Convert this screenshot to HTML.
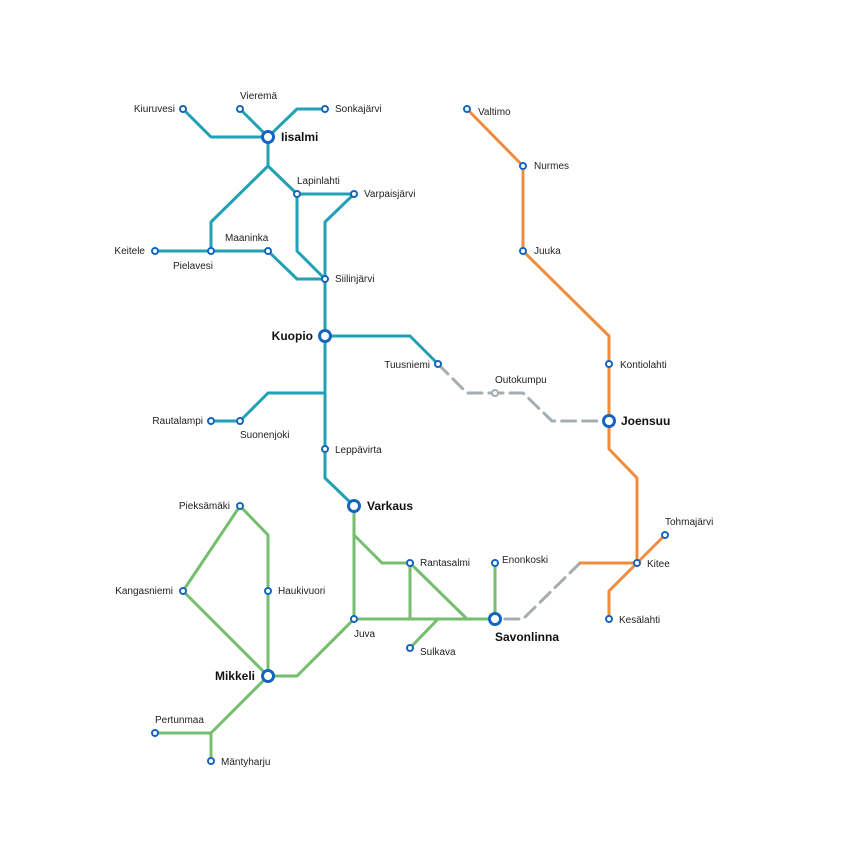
<!DOCTYPE html>
<html><head><meta charset="utf-8"><style>
html,body{margin:0;padding:0;background:#fff}
svg{display:block}
text{font-family:"Liberation Sans",sans-serif;font-size:10px;fill:#222}
.b{font-size:12px;font-weight:bold;fill:#111}
</style></head><body>
<svg width="850" height="850" viewBox="0 0 850 850">
<g fill="none" stroke-width="3" stroke-linejoin="round" stroke-linecap="round">
<g stroke="#22a1b4">
<polyline points="183,109 211,137 268,137"/>
<polyline points="240,109 268,137"/>
<polyline points="325,109 297,109 268,137"/>
<polyline points="268,137 268,166 211,222 211,251"/>
<polyline points="268,166 297,194 354,194"/>
<polyline points="297,194 297,251 325,279"/>
<polyline points="354,194 325,222 325,279"/>
<polyline points="155,251 268,251 297,279 325,279"/>
<polyline points="325,279 325,478 354,506"/>
<polyline points="325,336 410,336 438,364"/>
<polyline points="325,393 268,393 240,421 211,421"/>
</g>
<g stroke="#a3adb3" stroke-dasharray="14,7">
<polyline points="438,364 467,393 523,393 552,421 609,421"/>
<polyline points="580,563 523,619 495,619"/>
</g>
<g stroke="#f18c3e">
<polyline points="467,109 523,166 523,251 609,336 609,449 637,478 637,563 665,535"/>
<polyline points="637,563 609,591 609,619"/>
<polyline points="637,563 580,563"/>
</g>
<g stroke="#74be6d">
<polyline points="354,506 354,535 382,563 410,563 467,619"/>
<polyline points="354,506 354,619 495,619"/>
<polyline points="410,563 410,619"/>
<polyline points="410,648 438,619"/>
<polyline points="495,563 495,619"/>
<polyline points="354,619 297,676 268,676"/>
<polyline points="240,506 268,535 268,676 183,591 240,506"/>
<polyline points="268,676 211,733 155,733"/>
<polyline points="211,733 211,761"/>
</g>
</g>
<g fill="#fff" stroke="#1565c0" stroke-width="2">
<circle cx="183" cy="109" r="3"/><circle cx="240" cy="109" r="3"/><circle cx="325" cy="109" r="3"/>
<circle cx="297" cy="194" r="3"/><circle cx="354" cy="194" r="3"/><circle cx="155" cy="251" r="3"/>
<circle cx="211" cy="251" r="3"/><circle cx="268" cy="251" r="3"/><circle cx="325" cy="279" r="3"/>
<circle cx="438" cy="364" r="3"/><circle cx="211" cy="421" r="3"/><circle cx="240" cy="421" r="3"/>
<circle cx="325" cy="449" r="3"/><circle cx="467" cy="109" r="3"/><circle cx="523" cy="166" r="3"/>
<circle cx="523" cy="251" r="3"/><circle cx="609" cy="364" r="3"/><circle cx="665" cy="535" r="3"/>
<circle cx="637" cy="563" r="3"/><circle cx="609" cy="619" r="3"/><circle cx="410" cy="563" r="3"/>
<circle cx="354" cy="619" r="3"/><circle cx="410" cy="648" r="3"/><circle cx="495" cy="563" r="3"/>
<circle cx="240" cy="506" r="3"/><circle cx="268" cy="591" r="3"/><circle cx="183" cy="591" r="3"/>
<circle cx="155" cy="733" r="3"/><circle cx="211" cy="761" r="3"/>
<circle cx="495" cy="393" r="3" stroke="#a3adb3"/>
</g>
<g fill="#fff" stroke="#1565c0" stroke-width="3">
<circle cx="268" cy="137" r="5.5"/><circle cx="325" cy="336" r="5.5"/><circle cx="354" cy="506" r="5.5"/>
<circle cx="609" cy="421" r="5.5"/><circle cx="495" cy="619" r="5.5"/><circle cx="268" cy="676" r="5.5"/>
</g>
<text x="175" y="112" text-anchor="end">Kiuruvesi</text>
<text x="240" y="99">Vieremä</text>
<text x="335" y="112">Sonkajärvi</text>
<text x="281" y="141" class="b">Iisalmi</text>
<text x="297" y="184">Lapinlahti</text>
<text x="364" y="197">Varpaisjärvi</text>
<text x="225" y="241">Maaninka</text>
<text x="145" y="254" text-anchor="end">Keitele</text>
<text x="173" y="269">Pielavesi</text>
<text x="335" y="282">Siilinjärvi</text>
<text x="313" y="340" text-anchor="end" class="b">Kuopio</text>
<text x="430" y="368" text-anchor="end">Tuusniemi</text>
<text x="495" y="383">Outokumpu</text>
<text x="203" y="424" text-anchor="end">Rautalampi</text>
<text x="240" y="438">Suonenjoki</text>
<text x="335" y="453">Leppävirta</text>
<text x="367" y="510" class="b">Varkaus</text>
<text x="478" y="115">Valtimo</text>
<text x="534" y="169">Nurmes</text>
<text x="534" y="254">Juuka</text>
<text x="620" y="368">Kontiolahti</text>
<text x="621" y="425" class="b">Joensuu</text>
<text x="665" y="525">Tohmajärvi</text>
<text x="647" y="567">Kitee</text>
<text x="619" y="623">Kesälahti</text>
<text x="420" y="566">Rantasalmi</text>
<text x="502" y="563">Enonkoski</text>
<text x="354" y="637">Juva</text>
<text x="420" y="655">Sulkava</text>
<text x="495" y="641" class="b">Savonlinna</text>
<text x="230" y="509" text-anchor="end">Pieksämäki</text>
<text x="278" y="594">Haukivuori</text>
<text x="173" y="594" text-anchor="end">Kangasniemi</text>
<text x="255" y="680" text-anchor="end" class="b">Mikkeli</text>
<text x="155" y="723">Pertunmaa</text>
<text x="221" y="765">Mäntyharju</text>
</svg>
</body></html>
